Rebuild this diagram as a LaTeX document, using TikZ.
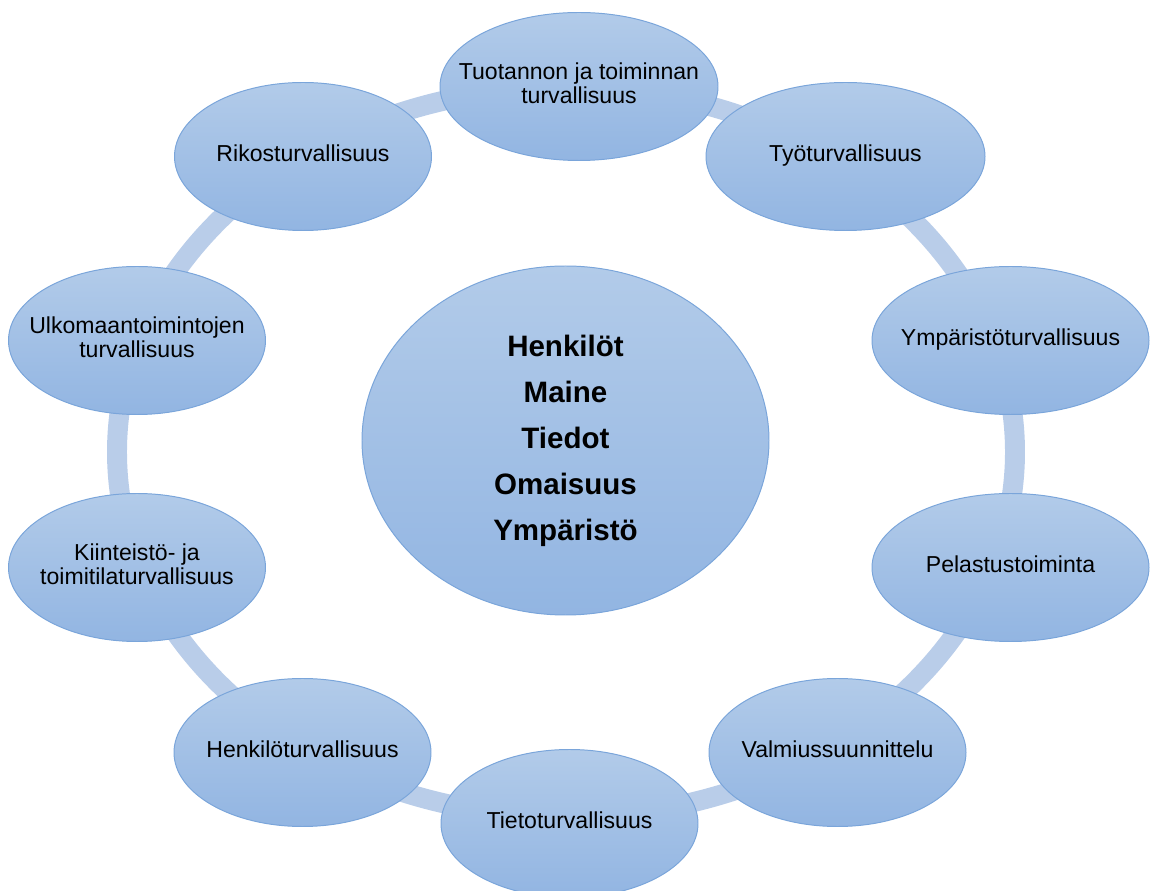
\documentclass[tikz,border=0pt]{standalone}
\usepackage{fontspec}
\setmainfont{Liberation Sans}
\usepackage{xcolor}
\usetikzlibrary{shapes.geometric}

\definecolor{ringblue}{RGB}{185,205,233}
\definecolor{topblue}{RGB}{178,203,233}
\definecolor{botblue}{RGB}{146,181,226}
\definecolor{edgeblue}{RGB}{122,165,218}

\def\px{0.025cm}
% text that does not widen its ellipse
\newcommand{\bubbletxt}[1]{\makebox[0pt]{\raisebox{-0.06cm}{\begin{tabular}{@{}c@{}}#1\end{tabular}}}}

\tikzset{
  bubble/.style={ellipse, draw=edgeblue, line width=0.7pt,
    top color=topblue, bottom color=botblue,
    inner sep=0pt, align=center,
    minimum width=257*\px, minimum height=148*\px,
    font=\fontsize{16.4}{17.6}\selectfont},
  core/.style={bubble, minimum width=407*\px, minimum height=349*\px,
    font=\fontsize{21}{32.7}\selectfont\bfseries},
  ring/.style={draw=ringblue, line width=14.2pt}
}

\begin{document}
\begin{tikzpicture}[x=0.025cm,y=-0.025cm]
  \useasboundingbox (0,0) rectangle (1153,891);

  % ring behind the bubbles
  \draw[ring] (566,452) ellipse [x radius=449, y radius=365];

  % outer bubbles, clockwise from the top
  \node[bubble, minimum width=278*\px] (prod) at (579,86.5) {\bubbletxt{Tuotannon ja toiminnan\\turvallisuus}};
  \node[bubble, minimum width=279*\px] (work) at (845.5,156.5) {\bubbletxt{Työturvallisuus}};
  \node[bubble, minimum width=277*\px] (envi) at (1010.5,340.5) {\bubbletxt{Ympäristöturvallisuus}};
  \node[bubble, minimum width=277*\px] (resc) at (1010.5,567.5) {\bubbletxt{Pelastustoiminta}};
  \node[bubble] (prep) at (837.5,752.5) {\bubbletxt{Valmiussuunnittelu}};
  \node[bubble] (info) at (569.5,823.5) {\bubbletxt{Tietoturvallisuus}};
  \node[bubble] (pers) at (302.5,752.5) {\bubbletxt{Henkilöturvallisuus}};
  \node[bubble] (prem) at (137,567.5) {\bubbletxt{Kiinteistö- ja\\toimitilaturvallisuus}};
  \node[bubble] (abrd) at (137,340.5) {\bubbletxt{Ulkomaantoimintojen\\turvallisuus}};
  \node[bubble] (crim) at (303,156.5) {\bubbletxt{Rikosturvallisuus}};

  % centre
  \node[core] (assets) at (565.5,440.5) {Henkilöt\\Maine\\Tiedot\\Omaisuus\\Ympäristö};
\end{tikzpicture}
\end{document}
